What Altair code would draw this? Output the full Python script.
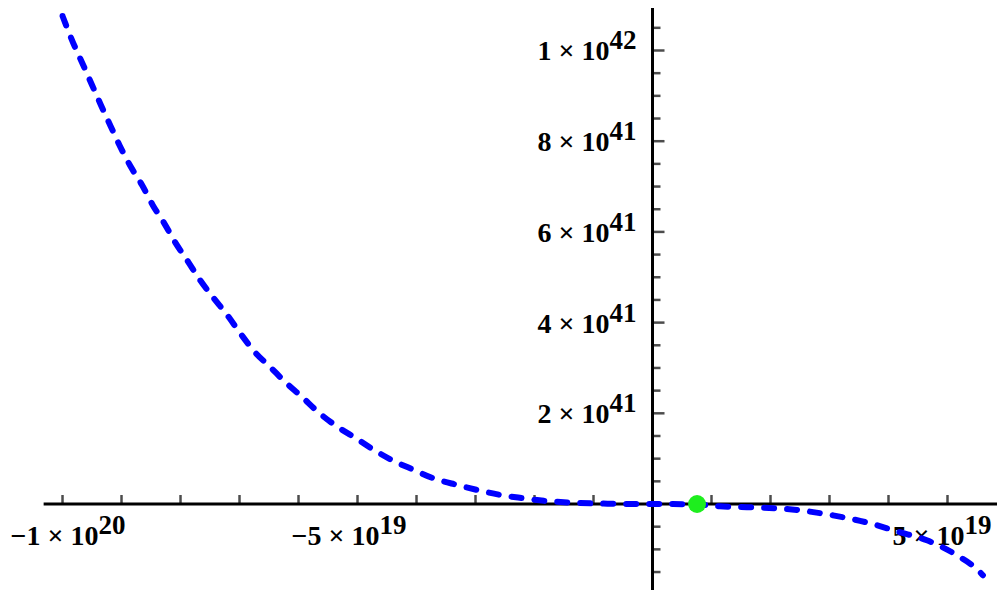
import altair as alt
import pandas as pd

# ---- data ----
# curve: x in units of 1e18, y in units of 1e41
curve_x = [-100.0, -98.2, -96.5, -95.0, -93.5, -91.8, -90.3, -88.4, -86.5, -84.7,
           -82.8, -80.9, -78.7, -76.7, -74.5, -72.1, -69.9, -67.4, -64.8, -62.1,
           -59.4, -56.7, -53.6, -50.4, -47.2, -43.9, -40.6, -37.2, -33.1, -29.7,
           -25.8, -22.1, -18.4, -14.4, -10.5, -6.5, -3.0, 0.0, 3.5, 7.5,
           11.4, 16.0, 22.8, 30.6, 36.4, 41.9, 46.5, 51.6, 55.5, 56.0]
curve_y = [10.76, 10.17, 9.68, 9.24, 8.80, 8.32, 7.90, 7.43, 7.03, 6.59,
           6.20, 5.77, 5.34, 4.94, 4.56, 4.17, 3.77, 3.35, 3.02, 2.67,
           2.36, 2.03, 1.72, 1.46, 1.19, 0.95, 0.76, 0.57, 0.42, 0.31,
           0.20, 0.13, 0.07, 0.035, 0.015, 0.005, 0.001, 0.0, -0.001, -0.01,
           -0.05, -0.07, -0.11, -0.25, -0.41, -0.62, -0.80, -1.13, -1.50, -1.57]

point_x = [7.55e18]
point_y = [0.0]

x_ticks = [-1e20, -9e19, -8e19, -7e19, -6e19, -5e19, -4e19, -3e19, -2e19, -1e19,
           1e19, 2e19, 3e19, 4e19, 5e19]
y_minor_ticks = [-1.5e41, -1e41, -5e40, 5e40, 1e41, 1.5e41, 2.5e41, 3e41, 3.5e41,
                 4.5e41, 5e41, 5.5e41, 6.5e41, 7e41, 7.5e41, 8.5e41, 9e41, 9.5e41,
                 1.05e42, 1.1e42]
y_major_ticks = [2e41, 4e41, 6e41, 8e41, 1e42]

y_label_vals = [2e41, 4e41, 6e41, 8e41, 1e42]
y_label_mant = ["2 × 10", "4 × 10", "6 × 10", "8 × 10", "1 × 10"]
y_label_exp = ["41", "41", "41", "41", "42"]

x_label_vals = [-1e20, -5e19, 5e19]
x_label_mant = ["−1 × 10", "−5 × 10", "5 × 10"]
x_label_exp = ["20", "19", "19"]

x_domain = [-1.0924e20, 5.839e19]
y_domain = [-1.896e41, 1.0937e42]
x_axis_extent = [-1.032e20, 5.839e19]
y_axis_extent = [-1.896e41, 1.0937e42]

FONT = "Liberation Serif"

# ---- tables ----
curve_df = pd.DataFrame({"x": [v * 1e18 for v in curve_x], "y": [v * 1e41 for v in curve_y]})
point_df = pd.DataFrame({"x": point_x, "y": point_y})
xt_df = pd.DataFrame({"x": x_ticks, "y": [0.0] * len(x_ticks)})
ymin_df = pd.DataFrame({"x": [0.0] * len(y_minor_ticks), "y": y_minor_ticks})
ymaj_df = pd.DataFrame({"x": [0.0] * len(y_major_ticks), "y": y_major_ticks})
ylab_df = pd.DataFrame({"x": [0.0] * len(y_label_vals), "y": y_label_vals,
                        "mant": y_label_mant, "exp": y_label_exp})
xlab_df = pd.DataFrame({"x": x_label_vals, "y": [0.0] * len(x_label_vals),
                        "mant": x_label_mant, "exp": x_label_exp})
xaxis_df = pd.DataFrame({"x": [x_axis_extent[0]], "x2": [x_axis_extent[1]], "y": [0.0]})
yaxis_df = pd.DataFrame({"y": [y_axis_extent[0]], "y2": [y_axis_extent[1]], "x": [0.0]})

xs = alt.Scale(domain=x_domain, nice=False, zero=False)
ys = alt.Scale(domain=y_domain, nice=False, zero=False)


def X(f="x"):
    return alt.X(f"{f}:Q", scale=xs, axis=None)


def Y(f="y"):
    return alt.Y(f"{f}:Q", scale=ys, axis=None)


x_axis = alt.Chart(xaxis_df).mark_rule(color="black", strokeWidth=3).encode(
    x=X(), x2="x2:Q", y=Y())
y_axis = alt.Chart(yaxis_df).mark_rule(color="black", strokeWidth=3).encode(
    y=Y(), y2="y2:Q", x=X())

x_tick_marks = alt.Chart(xt_df).mark_tick(
    orient="vertical", size=9, thickness=2.5, color="black", yOffset=-4.5).encode(x=X(), y=Y())
y_minor_marks = alt.Chart(ymin_df).mark_tick(
    orient="horizontal", size=8, thickness=2.5, color="black", xOffset=4).encode(x=X(), y=Y())
y_major_marks = alt.Chart(ymaj_df).mark_tick(
    orient="horizontal", size=12, thickness=2.5, color="black", xOffset=6).encode(x=X(), y=Y())

txt = dict(font=FONT, fontWeight="bold", color="black")
MANT = 28
EXP = 27

y_mant = alt.Chart(ylab_df).mark_text(align="right", baseline="alphabetic", dx=-43, dy=10,
                                      fontSize=MANT, **txt).encode(x=X(), y=Y(), text="mant:N")
y_exp = alt.Chart(ylab_df).mark_text(align="left", baseline="alphabetic", dx=-43, dy=-1,
                                     fontSize=EXP, **txt).encode(x=X(), y=Y(), text="exp:N")

x_label_layers = []
for i, dx in enumerate([36, 22, 17]):
    sub = xlab_df.iloc[[i]]
    x_label_layers.append(
        alt.Chart(sub).mark_text(align="right", baseline="alphabetic", dx=dx, dy=41,
                                 fontSize=MANT, **txt).encode(x=X(), y=Y(), text="mant:N"))
    x_label_layers.append(
        alt.Chart(sub).mark_text(align="left", baseline="alphabetic", dx=dx, dy=30,
                                 fontSize=EXP, **txt).encode(x=X(), y=Y(), text="exp:N"))

curve = alt.Chart(curve_df).mark_line(
    color="#0000FF", strokeWidth=6, strokeDash=[10, 13], strokeCap="round",
    interpolate="monotone").encode(x=X(), y=Y(), order="x:Q")

dot = alt.Chart(point_df).mark_point(
    filled=True, shape="circle", size=320, color="#1EEE1E", opacity=1).encode(x=X(), y=Y())

chart = alt.layer(
    x_axis, y_axis, x_tick_marks, y_minor_marks, y_major_marks,
    y_mant, y_exp, *x_label_layers, curve, dot
).properties(
    width=989, height=582, autosize=alt.AutoSizeParams(type="none"), padding=0,
    background="white"
).configure_view(stroke=None)

chart.save("out.html", embed_options={"renderer": "svg", "actions": False})
